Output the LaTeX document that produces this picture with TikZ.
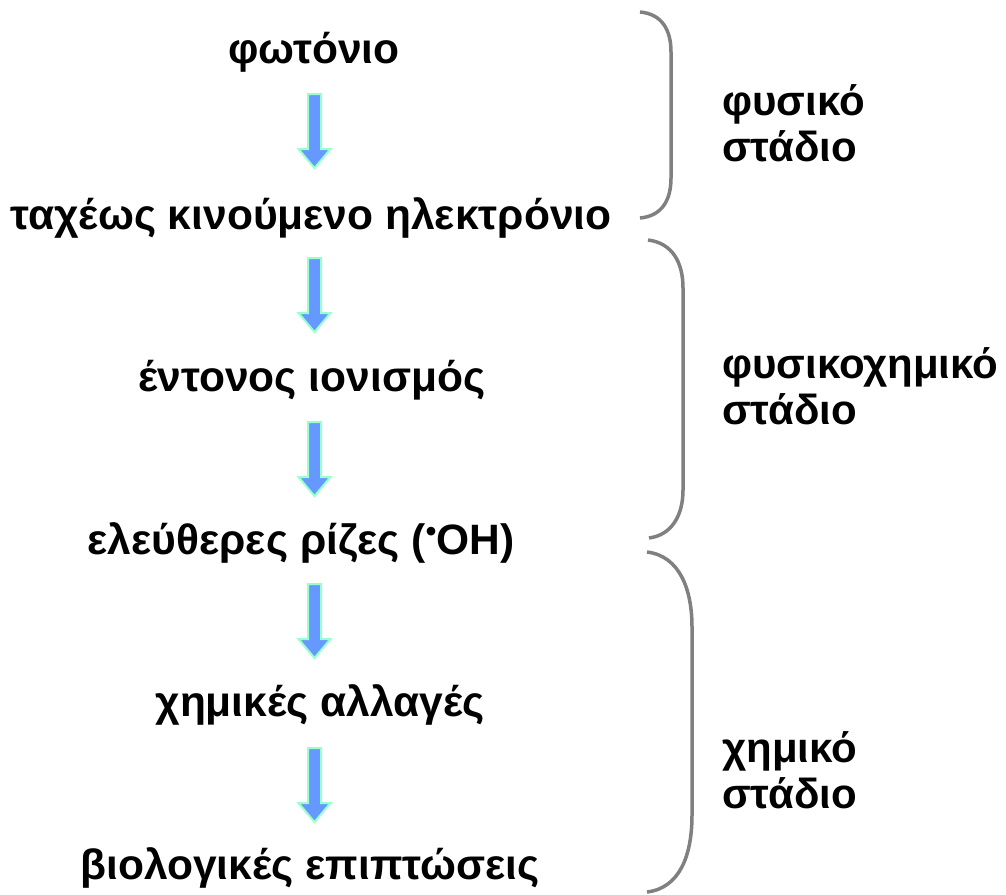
\documentclass[tikz,border=0pt]{standalone}
\usepackage{fontspec}
\setmainfont{Liberation Sans}
\definecolor{arrowfill}{RGB}{102,153,255}
\definecolor{arrowedge}{RGB}{153,255,204}
\definecolor{bracegray}{RGB}{128,128,128}
\tikzset{
  stage/.style={font=\fontsize{42.5}{46}\selectfont\bfseries, inner sep=0pt, anchor=center},
  phase/.style={font=\fontsize{42}{46}\selectfont\bfseries, inner sep=0pt, anchor=west, align=left},
  arrowbody/.style={fill=arrowfill, draw=arrowedge, line width=2pt, line join=miter},
  downarrow/.pic={
    \draw[arrowbody] (-6.5,1) -- (6.5,1) -- (6.5,56) -- (16,56) -- (0,75)
      -- (-16,56) -- (-6.5,56) -- cycle;
  },
  bracket/.style={draw=bracegray, line width=3.5pt, line cap=butt}
}
\begin{document}
\begin{tikzpicture}[x=1pt,y=-1pt]
\useasboundingbox (0,0) rectangle (1006,894);

% chain of processes
\node[stage] (photon) at (314,52) {φωτόνιο};
\node[stage] (electron) at (311,218) {ταχέως κινούμενο ηλεκτρόνιο};
\node[stage] (ionize) at (312,380) {έντονος ιονισμός};
\node[stage] (radicals) at (301,543) {ελεύθερες ρίζες (\raisebox{0.3em}{\fontsize{30}{30}\selectfont•}OH)};
\node[stage] (chem) at (320,705) {χημικές αλλαγές};
\node[stage] (bio) at (310,868) {βιολογικές επιπτώσεις};

% block arrows between the steps
\pic (a1) at (314.5,93) {downarrow};
\pic (a2) at (314.5,257) {downarrow};
\pic (a3) at (314.5,421) {downarrow};
\pic (a4) at (314.5,583) {downarrow};
\pic (a5) at (314.5,747) {downarrow};

% stage brackets
\draw[bracket] (640,12) .. controls (662,14) and (671,30) .. (671,52)
  -- (671,178) .. controls (671,200) and (662,216) .. (640,218);
\draw[bracket] (648,240) .. controls (672,243) and (683,262) .. (683,288)
  -- (683,490) .. controls (683,515) and (672,535) .. (649,538);
\draw[bracket] (647,552) .. controls (680,556) and (692,590) .. (692,627)
  -- (692,815) .. controls (692,855) and (680,888) .. (647,892);

% stage names
\node[phase] (p1) at (722,123) {φυσικό\\στάδιο};
\node[phase] (p2) at (722,386) {φυσικοχημικό\\στάδιο};
\node[phase] (p3) at (722,770) {χημικό\\στάδιο};
\end{tikzpicture}
\end{document}
